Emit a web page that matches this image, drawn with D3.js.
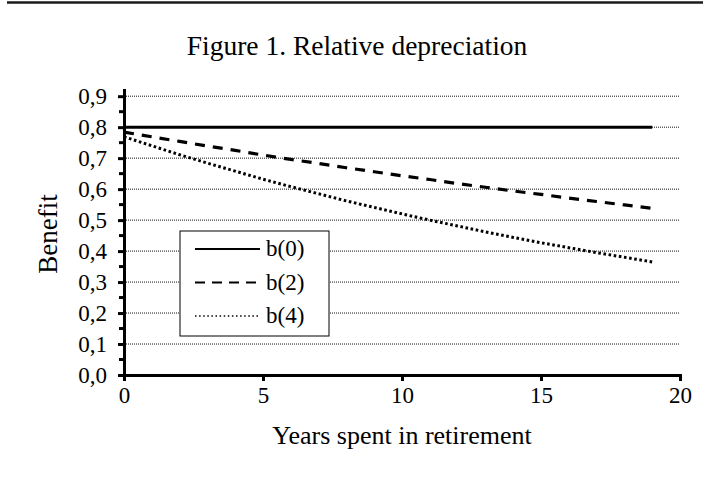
<!DOCTYPE html>
<meta charset="utf-8">

<!-- Load d3.js -->
<script src="https://d3js.org/d3.v7.min.js"></script>

<!-- Create a div where the graph will take place -->
<div id="my_dataviz"></div>

<style>
  body { margin: 0; background: #ffffff; }
  text { font-family: "Liberation Serif", "Times New Roman", serif; fill: #000000; }
</style>

<script>

// data
var years = [0, 1, 2, 3, 4, 5, 6, 7, 8, 9, 10, 11, 12, 13, 14, 15, 16, 17, 18, 19];
var b0 = [0.8, 0.8, 0.8, 0.8, 0.8, 0.8, 0.8, 0.8, 0.8, 0.8,
          0.8, 0.8, 0.8, 0.8, 0.8, 0.8, 0.8, 0.8, 0.8, 0.8];
var b2 = [0.784, 0.769, 0.754, 0.739, 0.725, 0.710, 0.696, 0.683, 0.669, 0.656,
          0.643, 0.631, 0.618, 0.606, 0.594, 0.583, 0.571, 0.560, 0.549, 0.538];
var b4 = [0.769, 0.740, 0.711, 0.684, 0.658, 0.632, 0.608, 0.585, 0.562, 0.541,
          0.520, 0.500, 0.481, 0.462, 0.444, 0.427, 0.411, 0.395, 0.380, 0.365];
var seriesNames = ["b(0)", "b(2)", "b(4)"];
var yTicks = [0, 0.1, 0.2, 0.3, 0.4, 0.5, 0.6, 0.7, 0.8, 0.9];
var yMinorTicks = [0.05, 0.15, 0.25, 0.35, 0.45, 0.55, 0.65, 0.75, 0.85];
var xTicks = [0, 5, 10, 15, 20];

// set the dimensions and margins of the graph
var margin = {top: 90, right: 29, bottom: 104, left: 124},
  width = 709 - margin.left - margin.right,
  height = 479 - margin.top - margin.bottom;

var root = d3.select("#my_dataviz")
  .append("svg")
    .attr("width", 709)
    .attr("height", 479);

// thin rule across the top of the page
root.append("line")
  .attr("x1", 7).attr("x2", 703)
  .attr("y1", 2.5).attr("y2", 2.5)
  .attr("stroke", "#1a1a1a")
  .attr("stroke-width", 2.5);

// title
root.append("text")
  .attr("x", 357)
  .attr("y", 55)
  .attr("text-anchor", "middle")
  .style("font-size", "27.5px")
  .text("Figure 1. Relative depreciation");

var svg = root.append("g")
  .attr("transform", "translate(" + margin.left + "," + margin.top + ")");

// scales
var x = d3.scaleLinear()
  .domain([0, 20])
  .range([0, width]);

var y = d3.scaleLinear()
  .domain([0, 0.92])
  .range([height, 0]);

var commaFormat = function(d) { return d3.format(".1f")(d).replace(".", ","); };

// dotted gridlines
svg.selectAll("grid")
  .data(yTicks.filter(function(d) { return d > 0; }))
  .enter()
  .append("line")
    .attr("x1", 0)
    .attr("x2", width)
    .attr("y1", function(d) { return y(d); })
    .attr("y2", function(d) { return y(d); })
    .attr("stroke", "#111111")
    .attr("stroke-width", 1)
    .attr("stroke-dasharray", "1,1");

// the three series
var series = [
  {name: seriesNames[0], values: b0, dash: null, width: 3},
  {name: seriesNames[1], values: b2, dash: "10,8", width: 3.2},
  {name: seriesNames[2], values: b4, dash: "2.6,2.6", width: 3}
];

var line = d3.line()
  .x(function(d, i) { return x(years[i]); })
  .y(function(d) { return y(d); });

svg.selectAll("series")
  .data(series)
  .enter()
  .append("path")
    .attr("d", function(d) { return line(d.values); })
    .attr("fill", "none")
    .attr("stroke", "#000000")
    .attr("stroke-width", function(d) { return d.width; })
    .attr("stroke-dasharray", function(d) { return d.dash; });

// Y axis with minor ticks
var yAxis = svg.append("g")
  .call(d3.axisLeft(y).tickValues(yTicks).tickSize(6).tickSizeOuter(0).tickPadding(11).tickFormat(commaFormat));

svg.selectAll("minor")
  .data(yMinorTicks)
  .enter()
  .append("line")
    .attr("x1", -5)
    .attr("x2", 0)
    .attr("y1", function(d) { return y(d); })
    .attr("y2", function(d) { return y(d); })
    .attr("stroke", "#000000")
    .attr("stroke-width", 3);

// X axis
var xAxis = svg.append("g")
  .attr("transform", "translate(0," + height + ")")
  .call(d3.axisBottom(x).tickValues(xTicks).tickSize(6).tickSizeOuter(0).tickPadding(6));

[yAxis, xAxis].forEach(function(ax) {
  ax.select(".domain").attr("stroke-width", 3).attr("stroke-linecap", "square");
  ax.selectAll(".tick line").attr("stroke-width", 3);
  ax.selectAll(".tick text")
    .style("font-family", "'Liberation Serif', 'Times New Roman', serif")
    .style("font-size", "23px")
    .attr("fill", "#000000");
});

// axis titles
svg.append("text")
  .attr("x", width / 2)
  .attr("y", height + 69)
  .attr("text-anchor", "middle")
  .style("font-size", "26px")
  .text("Years spent in retirement");

svg.append("text")
  .attr("transform", "rotate(-90)")
  .attr("x", -(234 - margin.top))
  .attr("y", 57 - margin.left)
  .attr("text-anchor", "middle")
  .style("font-size", "27px")
  .text("Benefit");

// legend
var legend = root.append("g")
  .attr("transform", "translate(180,231)");

legend.append("rect")
  .attr("width", 149)
  .attr("height", 105)
  .attr("fill", "#ffffff")
  .attr("stroke", "#000000")
  .attr("stroke-width", 1);

var legendDash = [null, "10,7", "1.5,2.6"];
var legendWidth = [2.2, 2.2, 1.6];

var rows = legend.selectAll("rows")
  .data(seriesNames)
  .enter()
  .append("g")
    .attr("transform", function(d, i) { return "translate(0," + (18 + i * 33.5) + ")"; });

rows.append("line")
  .attr("x1", 15)
  .attr("x2", 80)
  .attr("stroke", "#000000")
  .attr("stroke-width", function(d, i) { return legendWidth[i]; })
  .attr("stroke-dasharray", function(d, i) { return legendDash[i]; });

rows.append("text")
  .attr("x", 86)
  .attr("dy", "0.32em")
  .style("font-size", "23px")
  .text(function(d) { return d; });

</script>
